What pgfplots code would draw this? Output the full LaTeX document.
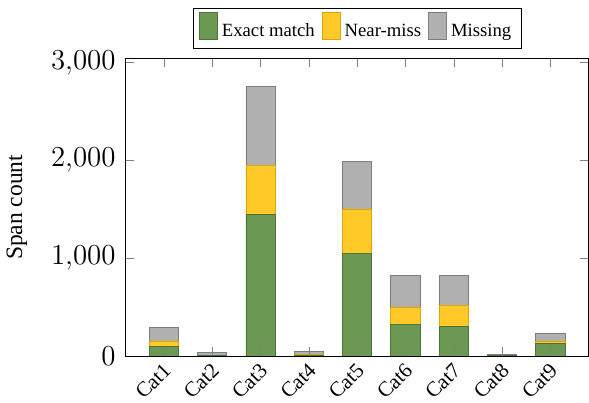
\documentclass[border=0pt]{standalone}
\usepackage{pgfplots}
\pgfplotsset{compat=1.18}
\usepackage{fontspec}
\setmainfont{Liberation Serif}
\definecolor{cgreen}{RGB}{107,152,83}
\definecolor{cgreenE}{RGB}{75,115,55}
\definecolor{cyellow}{RGB}{255,202,40}
\definecolor{cyellowE}{RGB}{222,165,10}
\definecolor{cgray}{RGB}{176,176,176}
\definecolor{cgrayE}{RGB}{125,125,125}
\begin{document}
\begin{tikzpicture}
\begin{axis}[
  scale only axis,
  width=230.5pt, height=148pt,
  ybar stacked,
  bar width=14.5pt,
  axis on top,
  xmin=-0.79, xmax=8.79,
  ymin=0, ymax=3040,
  xtick={0,1,2,3,4,5,6,7,8},
  xticklabels={Cat1,Cat2,Cat3,Cat4,Cat5,Cat6,Cat7,Cat8,Cat9},
  xticklabel style={rotate=45, anchor=east, font=\fontsize{10.5}{12}\selectfont, inner sep=1pt, yshift=-5pt, xshift=-1.5pt},
  ytick={0,1000,2000,3000},
  yticklabel style={font=\fontsize{15.6}{17}\selectfont, xshift=-1.5pt},
  ylabel={Span count},
  ylabel style={font=\fontsize{11.7}{13}\selectfont, yshift=5pt},
  legend style={at={(0.5,1.035)}, anchor=south, legend columns=3,
    font=\fontsize{9.3}{11}\selectfont, draw=black, inner xsep=3pt, inner ysep=2pt,
    /tikz/every even column/.append style={column sep=1.5pt}},
  legend image code/.code={\draw[#1] (0pt,-0.35em) rectangle (0.9em,0.95em);},
]
\addplot[fill=cgreen, draw=cgreenE] coordinates {(0,96) (1,5) (2,1452) (3,5) (4,1048) (5,319) (6,298) (7,8) (8,127)};
\addplot[fill=cyellow, draw=cyellowE] coordinates {(0,58) (1,5) (2,498) (3,8) (4,456) (5,174) (6,219) (7,2) (8,27)};
\addplot[fill=cgray, draw=cgrayE] coordinates {(0,134) (1,30) (2,811) (3,31) (4,483) (5,329) (6,308) (7,2) (8,72)};
\legend{Exact match, Near-miss, Missing}
\end{axis}
\path (current bounding box.north) ++(0,4pt);
\end{tikzpicture}
\end{document}
